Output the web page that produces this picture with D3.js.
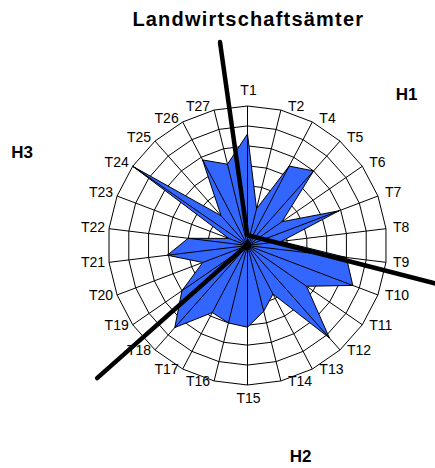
<!DOCTYPE html>
<html>
<head>
<meta charset="utf-8">
<script src="https://cdn.jsdelivr.net/npm/d3@7/dist/d3.min.js"></script>
<style>
  html, body { margin: 0; padding: 0; background: #ffffff; }
  svg { display: block; }
  text { font-family: Arial, "Liberation Sans", sans-serif; }
</style>
</head>
<body>
<script>
// ---- data ----
const categories = ["T1","T2","T4","T5","T6","T7","T8","T9","T10","T11","T12","T13","T14",
                    "T15","T16","T17","T18","T19","T20","T21","T22","T23","T24","T25","T26","T27"];
const values = [5.6, 1.9, 4.5, 5.0, 2.1, 4.9, 1.7, 5.0, 5.65, 3.6, 6.2, 2.75, 3.4,
                4.1, 4.0, 3.8, 5.5, 4.0, 2.4, 4.05, 3.0, 1.0, 7.0, 2.0, 4.85, 4.2];
const ringTicks = [1, 2, 3, 4, 5, 6, 7];
const title = "Landwirtschaftsämter";
const groupNames = ["H1", "H2", "H3"];
// divider lines between groups: [startAngleDeg, startRadius, endAngleDeg, endRadius] in chart units
const dividerAngles = [352.3, 101.6, 228.6];
const dividerStarts = [[357.7, 0.63], [357.3, 0.53], [250, 0.08]];
const dividerLengths = [10.3, 10.2, 10.06];

// ---- layout ----
const W = 435, H = 468, cx = 247.5, cy = 245.5, R = 139.5;
const svg = d3.select("body").append("svg").attr("width", W).attr("height", H);
svg.append("rect").attr("width", W).attr("height", H).attr("fill", "#fff");

const angle = d3.scaleBand().domain(categories).range([0, 2 * Math.PI]).padding(0);
const r = d3.scaleLinear().domain([0, d3.max(ringTicks)]).range([0, R]);
const rad = deg => deg * Math.PI / 180;
const pt = (a, rr) => [rr * Math.sin(a), -rr * Math.cos(a)];

const g = svg.append("g").attr("transform", `translate(${cx},${cy})`);

// rings
ringTicks.forEach(t => {
  g.append("path")
    .attr("d", d3.lineRadial().angle(c => angle(c)).radius(r(t)).curve(d3.curveLinearClosed)(categories))
    .attr("fill", "none").attr("stroke", "#000").attr("stroke-width", 1);
});
// spokes
g.selectAll("line.spoke").data(categories).join("line").attr("class", "spoke")
  .attr("x1", 0).attr("y1", 0)
  .attr("x2", c => pt(angle(c), r(7))[0]).attr("y2", c => pt(angle(c), r(7))[1])
  .attr("stroke", "#000").attr("stroke-width", 1);

// filled data polygon
g.append("path")
  .attr("d", d3.lineRadial().angle((d, i) => angle(categories[i])).radius(d => r(d)).curve(d3.curveLinearClosed)(values))
  .attr("fill", "#3366ff").attr("stroke", "#000").attr("stroke-width", 1).attr("stroke-linejoin", "miter");
// rays to vertices
g.selectAll("line.ray").data(values).join("line").attr("class", "ray")
  .attr("x1", 0).attr("y1", 0)
  .attr("x2", (d, i) => pt(angle(categories[i]), r(d))[0])
  .attr("y2", (d, i) => pt(angle(categories[i]), r(d))[1])
  .attr("stroke", "#000").attr("stroke-width", 1);

// dividers
dividerAngles.forEach((a, i) => {
  const s = pt(rad(dividerStarts[i][0]), r(dividerStarts[i][1]));
  const e = pt(rad(a), r(dividerLengths[i]));
  g.append("line").attr("x1", s[0]).attr("y1", s[1]).attr("x2", e[0]).attr("y2", e[1])
    .attr("stroke", "#000").attr("stroke-width", 4.5).attr("stroke-linecap", "round");
});
g.append("circle").attr("r", 3.5).attr("fill", "#000");

// category labels
g.selectAll("text.cat").data(categories).join("text").attr("class", "cat")
  .attr("font-size", 14).attr("fill", "#000")
  .text(c => c)
  .each(function (c) {
    const a = angle(c);
    const s = Math.sin(a), co = Math.cos(a);
    const [x, y] = pt(a, r(7));
    const t = d3.select(this);
    let tx, ty, anchor;
    if (Math.abs(s) < 0.05) {
      anchor = "middle"; tx = x + 1; ty = co > 0 ? y - 16 : y + 13;
    } else if (s > 0) {
      anchor = "start"; tx = x + 7; ty = co > 0 ? y - 4.5 * Math.min(1, co * 3) : y;
    } else {
      anchor = "end"; tx = x - 4; ty = co > 0 ? y - 4.5 * Math.min(1, co * 3) : y;
    }
    t.attr("x", tx).attr("y", ty).attr("dy", "0.36em").attr("text-anchor", anchor);
  });

// title
svg.append("text").attr("x", 248.3).attr("y", 26).attr("text-anchor", "middle")
  .attr("font-size", 20).attr("font-weight", "bold").attr("letter-spacing", 1.2).text(title);

// group labels
const groupPos = [[406.5, 100], [300.5, 462], [22, 158]];
groupNames.forEach((n, i) => {
  svg.append("text").attr("x", groupPos[i][0]).attr("y", groupPos[i][1]).attr("text-anchor", "middle")
    .attr("font-size", 17).attr("font-weight", "bold").text(n);
});
</script>
</body>
</html>
